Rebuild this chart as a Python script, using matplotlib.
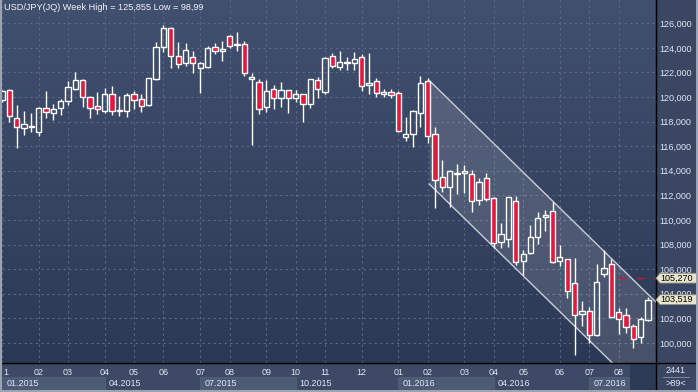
import matplotlib.pyplot as plt
import numpy as np
from matplotlib.patches import Rectangle, Polygon
from matplotlib.colors import LinearSegmentedColormap
from matplotlib.transforms import blended_transform_factory, ScaledTranslation

plt.rcParams['font.family'] = ['Liberation Sans', 'DejaVu Sans']

# weekly candles, index 0 = week of 29.12.2014
abertura = [119.76, 120.57, 118.27, 117.46, 117.58, 117.13, 119.08, 118.67, 119.08, 119.70,
            120.67, 121.38, 120.02, 119.27, 118.89, 120.22, 118.98, 118.89, 120.22, 119.81,
            119.35, 121.46, 124.09, 125.59, 123.33, 122.76, 123.23, 122.33, 122.46, 124.04,
            123.78, 124.98, 124.25, 124.28, 121.49, 121.24, 119.16, 120.63, 119.94, 120.54,
            119.94, 120.22, 119.41, 121.38, 120.43, 123.33, 122.41, 122.75, 122.74, 123.23,
            121.00, 121.33, 120.22, 120.41, 120.30, 116.77, 116.97, 118.72, 121.33, 116.97,
            113.52, 112.66, 113.75, 113.85, 113.72, 111.63, 113.39, 111.76, 108.24, 108.43,
            111.57, 106.69, 107.29, 108.59, 110.22, 110.76, 106.69, 106.80, 104.85, 102.33,
            102.63, 100.65, 105.59, 106.42, 102.50, 102.28, 101.41, 100.51, 101.90]
maxima = [120.60, 120.65, 119.35, 118.86, 118.67, 119.21, 120.49, 119.43, 119.84, 121.30,
          122.00, 121.46, 120.10, 120.43, 120.71, 120.89, 120.08, 120.30, 120.51, 120.24,
          121.55, 124.45, 125.855, 125.72, 124.45, 124.41, 123.74, 122.87, 124.17, 124.41,
          124.55, 125.04, 125.31, 124.55, 121.98, 121.46, 121.38, 120.98, 121.22, 120.60,
          120.57, 120.28, 121.50, 121.65, 123.28, 123.60, 123.74, 123.28, 123.63, 123.50,
          123.60, 121.52, 120.63, 120.63, 120.49, 118.35, 118.94, 121.71, 121.52, 117.54,
          114.88, 114.07, 114.55, 114.47, 114.07, 113.39, 113.80, 111.89, 109.73, 111.89,
          111.98, 107.56, 109.59, 110.63, 110.81, 111.49, 107.97, 106.85, 106.89, 103.44,
          102.90, 106.42, 107.56, 106.83, 102.87, 102.82, 101.54, 102.09, 103.72]
minima = [119.60, 118.00, 115.83, 116.91, 117.18, 116.85, 118.32, 118.13, 118.54, 119.35,
          120.57, 119.16, 118.32, 118.62, 118.72, 118.54, 118.46, 118.40, 119.00, 118.80,
          119.27, 121.38, 123.68, 122.38, 122.38, 122.55, 121.93, 120.35, 122.38, 123.50,
          122.95, 124.00, 123.77, 121.73, 116.10, 118.59, 118.80, 119.02, 119.21, 118.67,
          119.62, 118.00, 119.13, 119.94, 120.22, 122.38, 122.20, 122.20, 122.20, 120.49,
          120.24, 120.02, 120.02, 119.94, 117.18, 116.45, 115.96, 117.59, 116.28, 111.00,
          112.30, 111.08, 112.11, 112.22, 110.67, 111.22, 111.57, 107.70, 107.70, 107.83,
          106.34, 105.53, 107.20, 108.05, 109.13, 106.50, 106.26, 103.63, 98.99, 101.41,
          100.02, 100.57, 105.34, 102.01, 100.73, 100.84, 99.62, 100.02, 101.80]
fecho = [120.49, 118.48, 117.54, 117.78, 117.62, 119.08, 118.76, 119.00, 119.67, 120.79,
         121.38, 120.02, 119.13, 119.00, 120.22, 118.89, 118.89, 120.14, 119.76, 119.27,
         121.52, 124.09, 125.59, 123.36, 122.66, 123.82, 122.79, 122.74, 124.00, 123.76,
         123.88, 124.17, 124.30, 121.98, 121.65, 119.00, 120.51, 119.94, 120.54, 119.89,
         120.22, 119.41, 121.44, 120.63, 123.15, 122.54, 122.82, 122.80, 123.07, 120.92,
         121.10, 120.30, 120.41, 120.14, 117.26, 116.97, 118.86, 121.11, 116.85, 113.25,
         112.66, 114.00, 113.85, 113.95, 111.57, 113.07, 111.69, 108.10, 108.84, 111.85,
         106.56, 107.21, 108.64, 110.14, 110.41, 106.56, 107.02, 104.23, 102.28, 102.60,
         100.65, 104.93, 106.07, 102.09, 101.95, 101.33, 100.30, 101.93, 103.52]

mes_idx = [0, 5, 9, 14, 18, 22, 27, 31, 36, 40, 44, 49, 54, 58, 63, 67, 71, 76, 80, 84]
mes_lbl = ['1', '02', '03', '04', '05', '06', '07', '08', '09', '10', '11', '12',
           '01', '02', '03', '04', '05', '06', '07', '08']
tri_idx = [0, 14, 27, 40, 54, 67, 80]
tri_lbl = ['01.2015', '04.2015', '07.2015', '10.2015', '01.2016', '04.2016', '07.2016']

# channel drawn on the chart
canal_x = [58.2, 90.0]
canal_sup = [121.35, 102.80]
canal_inf = [112.93, 94.38]
linha_vermelha = 105.27
ultimo = 103.519

W, H = 698, 392
fig = plt.figure(figsize=(W / 100, H / 100), dpi=100)
fig.patch.set_facecolor('#3d4965')

def fx(px):
    return px / W

def fy(py):
    return 1 - py / H

ax = fig.add_axes([fx(2), fy(363), (656 - 2) / W, 363 / H])
x0, x1 = 0.054, 89.1
y0, y1 = 98.37, 127.89

cmap = LinearSegmentedColormap.from_list('fundo', ['#425070', '#2c3955'])
ax.imshow(np.linspace(0, 1, 256).reshape(-1, 1), cmap=cmap, aspect='auto',
          extent=[x0, x1, y0, y1], origin='upper', zorder=0)

ax.set_xlim(x0, x1)
ax.set_ylim(y0, y1)
ax.grid(True, color='#5c6a86', linestyle=(0, (2, 3)), linewidth=0.8)

# channel
ax.fill_between(canal_x, canal_inf, canal_sup, color='white', alpha=0.13, zorder=2, linewidth=0)
ax.plot(canal_x, canal_sup, color='#c9cdd6', lw=1.0, zorder=2)
ax.plot(canal_x, canal_inf, color='#c9cdd6', lw=1.0, zorder=2)

# candles
w = 0.72
vermelho = '#e3183f'
for i in range(len(fecho)):
    o, h, l, c = abertura[i], maxima[i], minima[i], fecho[i]
    lo, hi = min(o, c), max(o, c)
    ax.vlines(i, l, lo, color='white', lw=1.0, zorder=3)
    ax.vlines(i, hi, h, color='white', lw=1.0, zorder=3)
    face = vermelho if c < o else 'none'
    ax.add_patch(Rectangle((i - w / 2, lo), w, max(hi - lo, 0.06), facecolor=face,
                           edgecolor='white', lw=1.0, zorder=4))

ax.plot([83.9, x1], [linha_vermelha, linha_vermelha], color='#c8142e', lw=1.0,
        linestyle=(0, (6, 7)), zorder=5)

for s in ['left', 'top']:
    ax.spines[s].set_visible(False)
ax.spines['right'].set_color('black')
ax.spines['bottom'].set_color('black')

yt = np.arange(100, 127, 2)
ax.yaxis.tick_right()
ax.set_yticks(yt, [f'{v:.3f}'.replace('.', ',') for v in yt])
ax.set_xticks(mes_idx, mes_lbl)
ax.tick_params(axis='y', length=0, pad=2.5, labelsize=6.5, labelcolor='#dce7f6')
ax.tick_params(axis='x', length=0, pad=3.5, labelsize=6.5, labelcolor='#dce7f6')
# first month label sits at the left edge, only "1" visible
lb0 = ax.get_xticklabels()[0]
lb0.set_ha('left')
lb0.set_transform(lb0.get_transform() + ScaledTranslation(1.5 / 100, 0, fig.dpi_scale_trans))

ax.text(0.003, 0.979, 'USD/JPY(JQ) Week High = 125,855 Low = 98,99', transform=ax.transAxes,
        fontsize=6.6, color='#eef2f8', va='center', ha='left', zorder=6)

# right panel + bottom panel
fig.add_artist(Rectangle((fx(656), 0), fx(698) - fx(656), 1, transform=fig.transFigure,
                         facecolor='#3a4662', edgecolor='none', zorder=-5))

bx = blended_transform_factory(ax.transData, fig.transFigure)
tri_fim = tri_idx[1:] + [85.6]
for k in range(len(tri_idx)):
    a = x0 if tri_idx[k] == 0 else tri_idx[k]
    if k % 2 == 0:
        fig.add_artist(Rectangle((a, fy(390)), tri_fim[k] - a, fy(376.5) - fy(390), transform=bx,
                                 facecolor='#4e5b75', edgecolor='#56637c', lw=0.5, zorder=-4))
    fig.text(a + 0.55, fy(383.3), tri_lbl[k], transform=bx, fontsize=6.5, color='#dce7f6',
             va='center', ha='left')
fig.add_artist(Rectangle((85.6, fy(392)), x1 - 85.6, fy(363) - fy(392), transform=bx,
                         facecolor='#2d3a55', edgecolor='none', zorder=-4))

fig.add_artist(plt.Line2D([0, 1], [fy(363), fy(363)], transform=fig.transFigure, color='black', lw=1.0))
fig.add_artist(plt.Line2D([fx(655.5), fx(655.5)], [0, 1], transform=fig.transFigure, color='black', lw=1.0))

fig.text(fx(676), fy(370.7), '2441', fontsize=6.5, color='#dce7f6', ha='center', va='center')
fig.text(fx(676), fy(383.3), '>89<', fontsize=6.5, color='#dce7f6', ha='center', va='center')
fig.add_artist(plt.Line2D([fx(663), fx(689)], [fy(376.7), fy(376.7)], transform=fig.transFigure,
                          color='#8a94a8', lw=0.6))

# price tags
by = blended_transform_factory(fig.transFigure, ax.transData)
for val in [linha_vermelha, ultimo]:
    hh = 0.4
    pts = [(fx(656), val), (fx(660), val - hh), (fx(697), val - hh), (fx(697), val + hh), (fx(660), val + hh)]
    fig.add_artist(Polygon(pts, closed=True, transform=by, facecolor='#e8e5cd', edgecolor='#8d8c80',
                           lw=0.6, zorder=10))
    fig.text(fx(660), val, f'{val:.3f}'.replace('.', ','), transform=by, fontsize=6.5,
             color='black', ha='left', va='center', zorder=11)

# outer frame
for r in [(0, 0, 2, H), (696, 0, 2, H), (0, 390, W, 2)]:
    fig.add_artist(Rectangle((fx(r[0]), fy(r[1] + r[3])), r[2] / W, r[3] / H, transform=fig.transFigure,
                             facecolor='#9aa3b3', edgecolor='none', zorder=12))

fig.savefig('out.png', dpi=100)
